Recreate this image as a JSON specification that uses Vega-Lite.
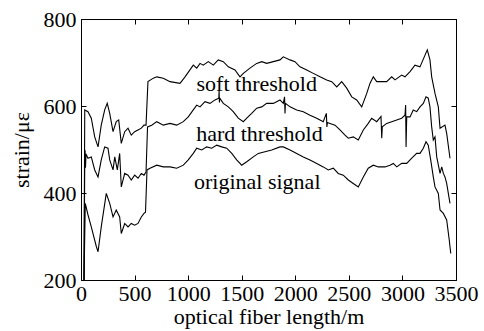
{
  "$schema": "https://vega.github.io/schema/vega-lite/v6.json",
  "width": 375,
  "height": 261,
  "autosize": {"type": "none"},
  "padding": {"left": 81, "top": 19, "right": 28, "bottom": 51},
  "background": "white",
  "config": {
    "font": "Times New Roman",
    "text": {"font": "Times New Roman"},
    "view": {"stroke": "black", "strokeWidth": 1},
    "axis": {
      "domainColor": "black",
      "tickColor": "black",
      "labelColor": "black",
      "titleColor": "black",
      "labelFont": "Times New Roman",
      "titleFont": "Times New Roman",
      "labelFontSize": 22,
      "titleFontSize": 22,
      "titleFontWeight": "normal",
      "grid": false
    }
  },
  "datasets": {
    "lines": [
      {"series":"soft","x":28,"y":200},{"series":"soft","x":35,"y":591},{"series":"soft","x":65,"y":587},{"series":"soft","x":96,"y":572},{"series":"soft","x":128,"y":529},{"series":"soft","x":159,"y":506},{"series":"soft","x":189,"y":556},{"series":"soft","x":221,"y":591},{"series":"soft","x":245,"y":606},{"series":"soft","x":268,"y":583},{"series":"soft","x":299,"y":541},{"series":"soft","x":329,"y":564},{"series":"soft","x":352,"y":568},{"series":"soft","x":376,"y":514},{"series":"soft","x":408,"y":541},{"series":"soft","x":439,"y":549},{"series":"soft","x":469,"y":533},{"series":"soft","x":501,"y":541},{"series":"soft","x":532,"y":545},{"series":"soft","x":563,"y":549},{"series":"soft","x":588,"y":556},{"series":"soft","x":607,"y":556},{"series":"soft","x":625,"y":656},{"series":"soft","x":675,"y":664},{"series":"soft","x":707,"y":667},{"series":"soft","x":768,"y":664},{"series":"soft","x":831,"y":656},{"series":"soft","x":924,"y":652},{"series":"soft","x":971,"y":667},{"series":"soft","x":1048,"y":694},{"series":"soft","x":1080,"y":687},{"series":"soft","x":1111,"y":698},{"series":"soft","x":1141,"y":694},{"series":"soft","x":1188,"y":702},{"series":"soft","x":1235,"y":694},{"series":"soft","x":1281,"y":706},{"series":"soft","x":1328,"y":702},{"series":"soft","x":1375,"y":690},{"series":"soft","x":1437,"y":683},{"series":"soft","x":1484,"y":667},{"series":"soft","x":1515,"y":675},{"series":"soft","x":1577,"y":687},{"series":"soft","x":1640,"y":698},{"series":"soft","x":1687,"y":702},{"series":"soft","x":1733,"y":698},{"series":"soft","x":1795,"y":702},{"series":"soft","x":1857,"y":706},{"series":"soft","x":1888,"y":713},{"series":"soft","x":1951,"y":706},{"series":"soft","x":1997,"y":702},{"series":"soft","x":2044,"y":690},{"series":"soft","x":2107,"y":683},{"series":"soft","x":2168,"y":675},{"series":"soft","x":2231,"y":667},{"series":"soft","x":2293,"y":660},{"series":"soft","x":2340,"y":656},{"series":"soft","x":2387,"y":644},{"series":"soft","x":2433,"y":656},{"series":"soft","x":2480,"y":641},{"series":"soft","x":2527,"y":621},{"series":"soft","x":2573,"y":614},{"series":"soft","x":2620,"y":598},{"series":"soft","x":2667,"y":629},{"series":"soft","x":2697,"y":652},{"series":"soft","x":2728,"y":667},{"series":"soft","x":2760,"y":656},{"series":"soft","x":2853,"y":656},{"series":"soft","x":2900,"y":667},{"series":"soft","x":2931,"y":660},{"series":"soft","x":2993,"y":671},{"series":"soft","x":3024,"y":667},{"series":"soft","x":3071,"y":679},{"series":"soft","x":3117,"y":694},{"series":"soft","x":3164,"y":690},{"series":"soft","x":3211,"y":717},{"series":"soft","x":3232,"y":729},{"series":"soft","x":3257,"y":706},{"series":"soft","x":3273,"y":667},{"series":"soft","x":3304,"y":629},{"series":"soft","x":3335,"y":598},{"series":"soft","x":3351,"y":549},{"series":"soft","x":3397,"y":556},{"series":"soft","x":3413,"y":537},{"series":"soft","x":3444,"y":480},

      {"series":"hard","x":28,"y":200},{"series":"hard","x":35,"y":476},{"series":"hard","x":38,"y":498},{"series":"hard","x":42,"y":458},{"series":"hard","x":47,"y":490},{"series":"hard","x":65,"y":480},{"series":"hard","x":96,"y":483},{"series":"hard","x":128,"y":453},{"series":"hard","x":159,"y":437},{"series":"hard","x":189,"y":476},{"series":"hard","x":221,"y":506},{"series":"hard","x":252,"y":503},{"series":"hard","x":268,"y":476},{"series":"hard","x":299,"y":453},{"series":"hard","x":315,"y":483},{"series":"hard","x":339,"y":453},{"series":"hard","x":361,"y":491},{"series":"hard","x":376,"y":414},{"series":"hard","x":408,"y":445},{"series":"hard","x":439,"y":441},{"series":"hard","x":469,"y":430},{"series":"hard","x":501,"y":441},{"series":"hard","x":532,"y":434},{"series":"hard","x":563,"y":445},{"series":"hard","x":588,"y":441},{"series":"hard","x":607,"y":448},{"series":"hard","x":621,"y":552},{"series":"hard","x":660,"y":556},{"series":"hard","x":707,"y":564},{"series":"hard","x":768,"y":556},{"series":"hard","x":831,"y":560},{"series":"hard","x":893,"y":556},{"series":"hard","x":955,"y":564},{"series":"hard","x":1001,"y":575},{"series":"hard","x":1048,"y":591},{"series":"hard","x":1080,"y":602},{"series":"hard","x":1111,"y":598},{"series":"hard","x":1157,"y":610},{"series":"hard","x":1204,"y":606},{"series":"hard","x":1251,"y":614},{"series":"hard","x":1286,"y":618},{"series":"hard","x":1289,"y":635},{"series":"hard","x":1292,"y":608},{"series":"hard","x":1295,"y":618},{"series":"hard","x":1328,"y":606},{"series":"hard","x":1375,"y":598},{"series":"hard","x":1421,"y":587},{"series":"hard","x":1468,"y":572},{"series":"hard","x":1515,"y":564},{"series":"hard","x":1547,"y":572},{"series":"hard","x":1593,"y":583},{"series":"hard","x":1640,"y":595},{"series":"hard","x":1687,"y":598},{"series":"hard","x":1733,"y":606},{"series":"hard","x":1795,"y":606},{"series":"hard","x":1857,"y":614},{"series":"hard","x":1888,"y":606},{"series":"hard","x":1900,"y":621},{"series":"hard","x":1904,"y":583},{"series":"hard","x":1908,"y":606},{"series":"hard","x":1951,"y":598},{"series":"hard","x":2013,"y":591},{"series":"hard","x":2075,"y":587},{"series":"hard","x":2137,"y":579},{"series":"hard","x":2200,"y":572},{"series":"hard","x":2261,"y":564},{"series":"hard","x":2290,"y":583},{"series":"hard","x":2295,"y":552},{"series":"hard","x":2300,"y":562},{"series":"hard","x":2324,"y":560},{"series":"hard","x":2371,"y":556},{"series":"hard","x":2417,"y":545},{"series":"hard","x":2464,"y":533},{"series":"hard","x":2495,"y":526},{"series":"hard","x":2541,"y":529},{"series":"hard","x":2588,"y":522},{"series":"hard","x":2635,"y":545},{"series":"hard","x":2681,"y":560},{"series":"hard","x":2713,"y":572},{"series":"hard","x":2760,"y":564},{"series":"hard","x":2800,"y":576},{"series":"hard","x":2807,"y":526},{"series":"hard","x":2812,"y":552},{"series":"hard","x":2853,"y":560},{"series":"hard","x":2900,"y":564},{"series":"hard","x":2947,"y":568},{"series":"hard","x":2993,"y":572},{"series":"hard","x":3024,"y":579},{"series":"hard","x":3030,"y":602},{"series":"hard","x":3034,"y":506},{"series":"hard","x":3040,"y":575},{"series":"hard","x":3071,"y":575},{"series":"hard","x":3101,"y":591},{"series":"hard","x":3133,"y":587},{"series":"hard","x":3164,"y":598},{"series":"hard","x":3195,"y":606},{"series":"hard","x":3220,"y":621},{"series":"hard","x":3241,"y":618},{"series":"hard","x":3257,"y":598},{"series":"hard","x":3273,"y":552},{"series":"hard","x":3288,"y":522},{"series":"hard","x":3304,"y":529},{"series":"hard","x":3320,"y":483},{"series":"hard","x":3351,"y":445},{"series":"hard","x":3367,"y":460},{"series":"hard","x":3382,"y":445},{"series":"hard","x":3397,"y":437},{"series":"hard","x":3413,"y":422},{"series":"hard","x":3444,"y":376},

      {"series":"orig","x":28,"y":200},{"series":"orig","x":40,"y":376},{"series":"orig","x":65,"y":350},{"series":"orig","x":96,"y":322},{"series":"orig","x":143,"y":277},{"series":"orig","x":159,"y":265},{"series":"orig","x":189,"y":322},{"series":"orig","x":236,"y":399},{"series":"orig","x":268,"y":376},{"series":"orig","x":299,"y":345},{"series":"orig","x":329,"y":361},{"series":"orig","x":361,"y":345},{"series":"orig","x":376,"y":307},{"series":"orig","x":408,"y":330},{"series":"orig","x":439,"y":322},{"series":"orig","x":469,"y":330},{"series":"orig","x":501,"y":326},{"series":"orig","x":532,"y":330},{"series":"orig","x":563,"y":345},{"series":"orig","x":588,"y":353},{"series":"orig","x":602,"y":356},{"series":"orig","x":616,"y":453},{"series":"orig","x":644,"y":457},{"series":"orig","x":707,"y":464},{"series":"orig","x":768,"y":460},{"series":"orig","x":831,"y":460},{"series":"orig","x":893,"y":457},{"series":"orig","x":955,"y":464},{"series":"orig","x":1001,"y":476},{"series":"orig","x":1048,"y":491},{"series":"orig","x":1080,"y":503},{"series":"orig","x":1127,"y":499},{"series":"orig","x":1173,"y":506},{"series":"orig","x":1220,"y":503},{"series":"orig","x":1267,"y":510},{"series":"orig","x":1313,"y":506},{"series":"orig","x":1360,"y":503},{"series":"orig","x":1407,"y":491},{"series":"orig","x":1453,"y":476},{"series":"orig","x":1500,"y":464},{"series":"orig","x":1547,"y":472},{"series":"orig","x":1608,"y":483},{"series":"orig","x":1655,"y":491},{"series":"orig","x":1717,"y":495},{"series":"orig","x":1780,"y":499},{"series":"orig","x":1857,"y":506},{"series":"orig","x":1888,"y":506},{"series":"orig","x":1951,"y":499},{"series":"orig","x":2013,"y":491},{"series":"orig","x":2075,"y":483},{"series":"orig","x":2137,"y":476},{"series":"orig","x":2200,"y":468},{"series":"orig","x":2261,"y":460},{"series":"orig","x":2308,"y":453},{"series":"orig","x":2355,"y":457},{"series":"orig","x":2401,"y":445},{"series":"orig","x":2448,"y":441},{"series":"orig","x":2495,"y":430},{"series":"orig","x":2541,"y":422},{"series":"orig","x":2588,"y":414},{"series":"orig","x":2635,"y":437},{"series":"orig","x":2681,"y":457},{"series":"orig","x":2728,"y":464},{"series":"orig","x":2775,"y":460},{"series":"orig","x":2837,"y":460},{"series":"orig","x":2884,"y":464},{"series":"orig","x":2915,"y":468},{"series":"orig","x":2947,"y":460},{"series":"orig","x":2993,"y":468},{"series":"orig","x":3040,"y":468},{"series":"orig","x":3087,"y":480},{"series":"orig","x":3133,"y":491},{"series":"orig","x":3164,"y":491},{"series":"orig","x":3195,"y":503},{"series":"orig","x":3220,"y":518},{"series":"orig","x":3241,"y":510},{"series":"orig","x":3264,"y":476},{"series":"orig","x":3288,"y":437},{"series":"orig","x":3304,"y":414},{"series":"orig","x":3335,"y":399},{"series":"orig","x":3351,"y":361},{"series":"orig","x":3382,"y":353},{"series":"orig","x":3413,"y":338},{"series":"orig","x":3437,"y":292},{"series":"orig","x":3451,"y":261}
    ],
    "labels": [
      {"label": "soft threshold", "x": 1640, "y": 635},
      {"label": "hard threshold", "x": 1665, "y": 519},
      {"label": "original signal", "x": 1645, "y": 410}
    ]
  },
  "layer": [
    {
      "data": {"name": "lines"},
      "mark": {"type": "line", "color": "black", "strokeWidth": 1.1, "clip": true},
      "encoding": {
        "x": {"field": "x", "type": "quantitative", "scale": {"domain": [0, 3500], "nice": false},
          "axis": {"title": "optical fiber length/m", "format": "d", "values": [0,500,1000,1500,2000,2500,3000,3500], "tickSize": -5, "labelPadding": 8, "titlePadding": 2, "labelFlush": false, "labelOverlap": false}},
        "y": {"field": "y", "type": "quantitative", "scale": {"domain": [200, 800], "nice": false, "zero": false},
          "axis": {"title": "strain/με", "format": "d", "values": [200,400,600,800], "tickSize": -5, "labelPadding": 10, "titlePadding": 10, "labelFlush": false, "labelOverlap": false}},
        "detail": {"field": "series"}
      }
    },
    {
      "data": {"name": "labels"},
      "mark": {"type": "text", "fontSize": 22, "font": "Times New Roman", "color": "black", "align": "center", "baseline": "alphabetic"},
      "encoding": {
        "x": {"field": "x", "type": "quantitative", "scale": {"domain": [0, 3500], "nice": false},
          "axis": {"orient": "top", "title": null, "labels": false, "values": [0,500,1000,1500,2000,2500,3000,3500], "tickSize": -5}},
        "y": {"field": "y", "type": "quantitative", "scale": {"domain": [200, 800], "nice": false, "zero": false},
          "axis": {"orient": "right", "title": null, "labels": false, "values": [200,400,600,800], "tickSize": -5}},
        "text": {"field": "label"}
      }
    }
  ],
  "resolve": {"axis": {"x": "independent", "y": "independent"}}
}
